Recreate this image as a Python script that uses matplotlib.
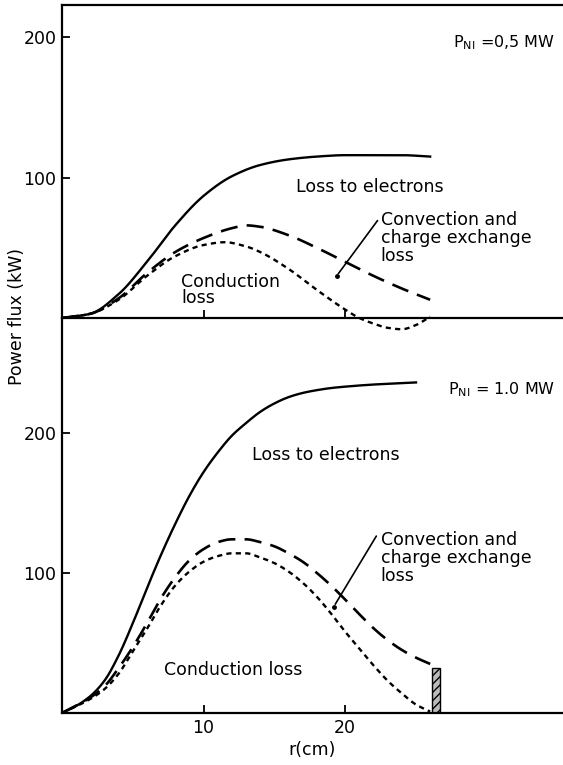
import matplotlib
matplotlib.use('Agg')
import matplotlib.pyplot as plt
import numpy as np

plt.rcParams['font.family'] = ['DejaVu Sans']
plt.rcParams['mathtext.default'] = 'regular'

# P_NI = 0.5 MW (top panel)
r_top = [0, 2, 4, 6, 8, 10, 12, 14, 16, 18, 20, 22, 24, 26]
electrons_top = [0, 3, 17, 40, 66, 87, 101, 109, 113, 115, 116, 116, 116, 115]
r_conv_top = [0, 2, 4, 6, 8, 10, 12, 13, 14, 16, 18, 20, 22, 24, 26]
convection_top = [0, 3, 14, 32, 47, 57, 64, 66, 65, 59, 50, 40, 30, 21, 13]
r_cond_top = [0, 2, 4, 6, 8, 10, 11.5, 13, 14, 16, 18, 20, 21, 22, 23, 24, 25, 26]
conduction_top = [0, 3, 13, 30, 44, 52, 54, 51, 47, 35, 20, 6, 0, -4, -7, -8, -5, 1]

# P_NI = 1.0 MW (bottom panel)
r_bot = [0, 1, 2, 3, 4, 5, 6, 7, 8, 9, 10, 11, 12, 13, 14, 15, 16, 17, 18, 19, 20, 22, 24, 25]
electrons_bot = [0, 5, 12, 23, 41, 64, 89, 113, 135, 155, 172, 186, 198, 207, 215, 221, 225.5, 228.5, 230.5, 232, 233, 234.5, 235.5, 236]
r_conv_bot = [0, 2, 3, 4, 5, 6, 7, 8, 9, 10, 11, 12, 13, 14, 15, 16, 17, 18, 19, 20, 21, 22, 23, 24, 25, 26]
convection_bot = [0, 11, 19, 32, 47, 64, 82, 97, 109, 117, 122, 124, 124, 122, 119, 114, 108, 100, 91, 81, 70.5, 60.5, 52, 45, 39.5, 35]
r_cond_bot = [0, 2, 3, 4, 5, 6, 7, 8, 9, 10, 11, 12, 13, 14, 15, 16, 17, 18, 19, 20, 21, 22, 23, 24, 25, 26]
conduction_bot = [0, 10, 17, 28, 44, 60, 77, 91, 101, 108, 112, 114, 114, 111, 107, 101, 93, 83, 71, 58, 46, 34, 23, 14, 6, 1]

wall_r = [26.4]
wall_h = [32]


def smooth(x, y, n=400):
    # monotone cubic (pchip) through the read points, for drawing only
    x = np.asarray(x, float)
    y = np.asarray(y, float)
    h = np.diff(x)
    d = np.diff(y) / h
    m = np.zeros_like(y)
    for k in range(1, len(x) - 1):
        if d[k - 1] * d[k] > 0:
            w1 = 2 * h[k] + h[k - 1]
            w2 = h[k] + 2 * h[k - 1]
            m[k] = (w1 + w2) / (w1 / d[k - 1] + w2 / d[k])
    m[0] = d[0]
    m[-1] = d[-1]
    xs = np.linspace(x[0], x[-1], n)
    idx = np.clip(np.searchsorted(x, xs) - 1, 0, len(x) - 2)
    t = (xs - x[idx]) / h[idx]
    h00 = 2 * t**3 - 3 * t**2 + 1
    h10 = t**3 - 2 * t**2 + t
    h01 = -2 * t**3 + 3 * t**2
    h11 = t**3 - t**2
    ys = h00 * y[idx] + h10 * h[idx] * m[idx] + h01 * y[idx + 1] + h11 * h[idx] * m[idx + 1]
    return xs, ys


fig = plt.figure(figsize=(5.63, 7.65), dpi=100)
ax2 = fig.add_axes([0.110, 0.0680, 0.888, 0.5163])
ax1 = fig.add_axes([0.110, 0.5843, 0.888, 0.4092])
ax1.patch.set_visible(False)

xmax = 35.3
solid = dict(color='black', lw=1.7)
dashed = dict(color='black', lw=1.9, linestyle=(0, (6.5, 3.5)))
dotted = dict(color='black', lw=1.7, linestyle=(0, (2.2, 1.8)))

ax1.plot(*smooth(r_top, electrons_top), **solid)
ax1.plot(*smooth(r_conv_top, convection_top), **dashed)
ax1.plot(*smooth(r_cond_top, conduction_top), clip_on=False, **dotted)

ax2.plot(*smooth(r_bot, electrons_bot), **solid)
ax2.plot(*smooth(r_conv_bot, convection_bot), **dashed)
ax2.plot(*smooth(r_cond_bot, conduction_bot), **dotted)
ax2.bar(wall_r, wall_h, width=0.6, facecolor='#bbbbbb', edgecolor='black',
        hatch='////', linewidth=1.0)

ax1.set_ylim(0, 223)
ax2.set_ylim(0, 282)
for ax in (ax1, ax2):
    ax.set_xlim(0, xmax)
    ax.set_yticks([100, 200])
    ax.set_xticks([10, 20])
    ax.tick_params(direction='in', length=6, width=1.3, labelsize=12.5, pad=4)
    ax.spines['right'].set_visible(False)
    for s in ('left', 'bottom', 'top'):
        ax.spines[s].set_linewidth(1.6)
ax1.tick_params(axis='x', labelbottom=False)
ax2.spines['top'].set_visible(False)

fs = 12.5
# top panel text
ax1.text(34.8, 196, '$P_{NI}$ =0,5 MW', fontsize=11.5, va='center', ha='right')
ax1.text(16.5, 93, 'Loss to electrons', fontsize=fs, va='center')
ax1.text(8.4, 20, 'Conduction\nloss', fontsize=fs, va='center', linespacing=0.9)
ax1.text(22.5, 57, 'Convection and\ncharge exchange\nloss', fontsize=fs,
         va='center', linespacing=1.0)
ax1.annotate('', xy=(19.4, 30), xytext=(22.4, 71),
             arrowprops=dict(arrowstyle='-', color='black', lw=1.2))
ax1.plot([19.4], [30], 'o', color='black', ms=2.5)

# bottom panel text
ax2.text(34.8, 231, '$P_{NI}$ = 1.0 MW', fontsize=11.5, va='center', ha='right')
ax2.text(13.4, 184, 'Loss to electrons', fontsize=fs, va='center')
ax2.text(7.2, 31, 'Conduction loss', fontsize=fs, va='center')
ax2.text(22.5, 111, 'Convection and\ncharge exchange\nloss', fontsize=fs,
         va='center', linespacing=1.0)
ax2.annotate('', xy=(19.2, 76), xytext=(22.3, 128),
             arrowprops=dict(arrowstyle='-', color='black', lw=1.2))
ax2.plot([19.2], [76], 'o', color='black', ms=2.5)

ax2.set_xlabel('r(cm)', fontsize=fs, labelpad=3)
fig.text(0.030, 0.586, 'Power flux (kW)', rotation=90, va='center',
         ha='center', fontsize=fs)

fig.savefig('out.png', dpi=100)
